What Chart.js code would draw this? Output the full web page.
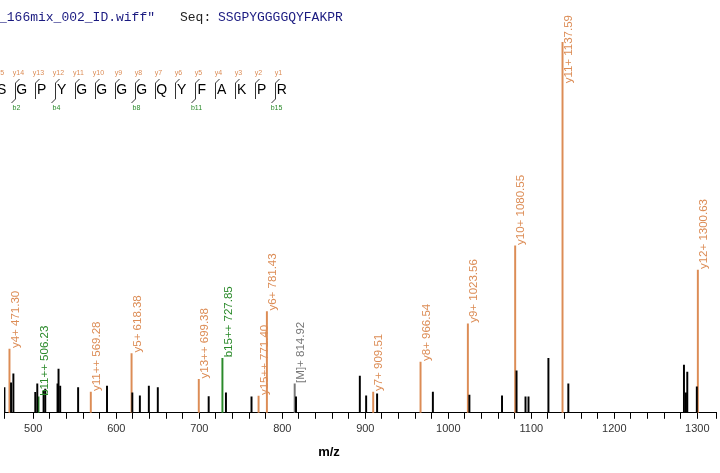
<!DOCTYPE html>
<html><head><meta charset="utf-8">
<script src="https://cdn.jsdelivr.net/npm/chart.js@4.4.1/dist/chart.umd.min.js"></script>
<style>html,body{margin:0;padding:0;background:#fff}#w{width:720px;height:473px;position:relative}</style>
</head><body><div id="w"><canvas id="c"></canvas></div>
<script>
const unlabeledMz = [465.2,473.2,476,502.4,504.8,512.4,514.4,529.2,530.4,532.4,554,588.8,619.3,628.4,639.2,650,711.3,732.1,762.9,816.5,893.4,901,914.2,981.4,1025.4,1064.7,1082.2,1093,1096.6,1120.6,1144.6,1283.9,1286.3,1287.9,1299.4];
const unlabeledInt = [6.8,8.1,10.5,5.5,7.8,5.9,6.4,7.8,11.8,7.2,6.8,7.2,5.4,4.6,7.2,6.8,4.4,5.4,4.3,4.3,9.9,4.6,5.1,5.6,4.8,4.6,11.3,4.3,4.3,14.7,7.8,12.9,5.4,11,7];
const yIonMz = [471.30,569.28,618.38,699.38,771.40,781.43,909.51,966.54,1023.56,1080.55,1137.59,1300.63];
const yIonInt = [17.2,5.6,16,9,4.5,27.3,5.6,13.7,24,45,100,38.5];
const yIonLabels = ["y4+ 471.30","y11++ 569.28","y5+ 618.38","y13++ 699.38","y15++ 771.40","y6+ 781.43","y7+ 909.51","y8+ 966.54","y9+ 1023.56","y10+ 1080.55","y11+ 1137.59","y12+ 1300.63"];
const bIonMz = [506.23,727.85];
const bIonInt = [4.3,14.7];
const bIonLabels = ["b11++ 506.23","b15++ 727.85"];
const precMz = [814.92];
const precInt = [7.8];
const precLabels = ["[M]+ 814.92"];
const sequence = "SSGPYGGGGQYFAKPR";
const yIonsSeq = [15,14,13,12,11,10,9,8,7,6,5,4,3,2,1];
const bIonsSeq = [2,4,8,11,15];

const ORANGE = "#dc8c55", GREEN = "#2a8a2a", GRAY = "#777777";
const pts = (m,i)=>m.map((v,k)=>({x:v,y:i[k]}));

const labelPlugin = {
  id:'lbl',
  afterDatasetsDraw(chart){
    const ctx = chart.ctx, xs = chart.scales.x, ys = chart.scales.y;
    ctx.save();
    ctx.font = '11.5px "Liberation Sans", Arial, sans-serif';
    ctx.textBaseline = 'middle';
    ctx.textAlign = 'left';
    const groups = [[yIonMz,yIonInt,yIonLabels,ORANGE],[bIonMz,bIonInt,bIonLabels,GREEN],[precMz,precInt,precLabels,GRAY]];
    for (const [m,it,lb,col] of groups){
      ctx.fillStyle = col;
      m.forEach((v,k)=>{
        const px = xs.getPixelForValue(v), py = ys.getPixelForValue(it[k]);
        const w = ctx.measureText(lb[k]).width;
        const start = Math.max(py-1, 15+w);
        ctx.save(); ctx.translate(px+6,start); ctx.rotate(-Math.PI/2);
        ctx.fillText(lb[k],0,0); ctx.restore();
      });
    }
    ctx.fillStyle = '#000'; ctx.textAlign = 'center';
    ctx.font = 'bold 13px "Liberation Sans", Arial, sans-serif';
    ctx.fillText('m/z', 329, 452);
    ctx.textAlign = 'left';
    ctx.font = '13px "Liberation Mono", "DejaVu Sans Mono", monospace';
    ctx.textBaseline = 'alphabetic';
    ctx.fillStyle = '#1a1a80';
    ctx.fillText('_166mix_002_ID.wiff"', -1, 21);
    ctx.fillStyle = '#222';
    ctx.fillText('Seq:', 180, 21);
    ctx.fillStyle = '#1a1a80';
    ctx.fillText(sequence, 218, 21);
    const x0 = -18.3, step = 20;
    ctx.font = '14px "Liberation Sans", Arial, sans-serif';
    ctx.fillStyle = '#000'; ctx.textAlign='center'; ctx.textBaseline='middle';
    for (let i=0;i<sequence.length;i++) ctx.fillText(sequence[i], x0+i*step, 90);
    ctx.lineWidth = 1;
    ctx.font = '7px "Liberation Sans", Arial, sans-serif';
    yIonsSeq.forEach(n=>{
      const idx = sequence.length-n; const bx = Math.round(x0+idx*step-7)+0.5;
      ctx.strokeStyle='#333'; ctx.beginPath(); ctx.moveTo(bx+4,79); ctx.lineTo(bx,83); ctx.lineTo(bx,99); ctx.stroke();
      ctx.fillStyle = ORANGE; ctx.fillText('y'+n, bx+3, 73);
    });
    bIonsSeq.forEach(n=>{
      const bx = Math.round(x0+n*step-7)+0.5;
      ctx.strokeStyle='#333'; ctx.beginPath(); ctx.moveTo(bx,95); ctx.lineTo(bx,99); ctx.lineTo(bx-4,103); ctx.stroke();
      ctx.fillStyle = GREEN; ctx.fillText('b'+n, bx+1, 108);
    });
    ctx.restore();
  }
};

new Chart(document.getElementById('c'), {
  type:'bar',
  data:{datasets:[
    {data:pts(unlabeledMz,unlabeledInt), backgroundColor:'#000'},
    {data:pts(yIonMz,yIonInt), backgroundColor:ORANGE},
    {data:pts(bIonMz,bIonInt), backgroundColor:GREEN},
    {data:pts(precMz,precInt), backgroundColor:GRAY}
  ]},
  options:{
    responsive:true, maintainAspectRatio:false, animation:false,
    layout:{padding:{top:42,left:0,right:0,bottom:33}},
    datasets:{bar:{barThickness:1.3,grouped:false}},
    plugins:{legend:{display:false},tooltip:{enabled:false}},
    scales:{
      x:{type:'linear',min:464.7,max:1322.5,offset:false,
        border:{display:true,color:'#000',width:1},
        grid:{display:true,drawOnChartArea:false,drawTicks:true,tickLength:6,color:'#000',offset:false},
        ticks:{stepSize:20,autoSkip:false,maxRotation:0,color:'#333',padding:4,
          font:{family:'"Liberation Sans", Arial, sans-serif',size:11},
          callback:v=> (Math.round(v)%100===0)?String(Math.round(v)):''},
        title:{display:false}
      },
      y:{display:false,min:0,max:100}
    }
  },
  plugins:[labelPlugin]
});
</script></body></html>
